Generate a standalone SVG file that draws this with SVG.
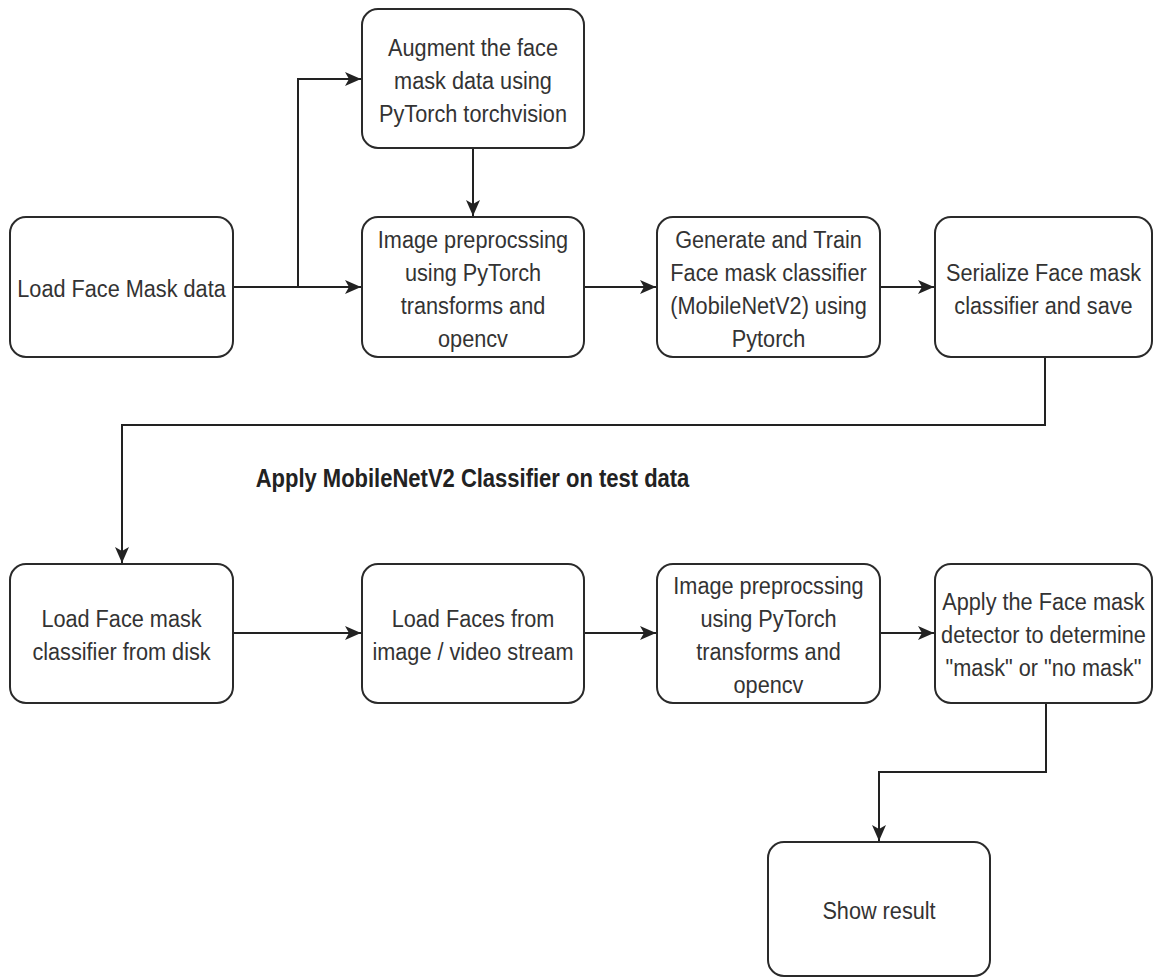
<svg xmlns="http://www.w3.org/2000/svg" width="1153" height="978" viewBox="0 0 1153 978">
<style>
.box{fill:#fff;stroke:#2a2a2a;stroke-width:2}
.t{font-family:"Liberation Sans",Arial,sans-serif;font-size:24.5px;fill:#333;text-anchor:middle}
.h{font-family:"Liberation Sans",Arial,sans-serif;font-size:25px;font-weight:bold;fill:#222;text-anchor:middle}
.c{fill:none;stroke:#222;stroke-width:2}
</style>
<defs>
<marker id="arr" markerUnits="userSpaceOnUse" markerWidth="16" markerHeight="14" refX="16" refY="7" orient="auto">
<path d="M0,0 L16,7 L0,14 L4,7 Z" fill="#222"/>
</marker>
</defs>
<rect width="1153" height="978" fill="#fff"/>
<g id="connectors">
<path class="c" d="M233,287 H361" marker-end="url(#arr)"/>
<path class="c" d="M298,287 V79 H361" marker-end="url(#arr)"/>
<path class="c" d="M473,148 V216" marker-end="url(#arr)"/>
<path class="c" d="M584,287 H656" marker-end="url(#arr)"/>
<path class="c" d="M880,287 H934" marker-end="url(#arr)"/>
<path class="c" d="M1045,357 V425 H122 V563" marker-end="url(#arr)"/>
<path class="c" d="M233,633 H361" marker-end="url(#arr)"/>
<path class="c" d="M584,633 H656" marker-end="url(#arr)"/>
<path class="c" d="M880,633 H934" marker-end="url(#arr)"/>
<path class="c" d="M1046,703 V772 H879 V841" marker-end="url(#arr)"/>
</g>
<g id="n1">
<rect class="box" x="10" y="217" width="223" height="140" rx="16"/>
<text class="t" transform="translate(121.5,0) scale(0.885,1)" x="0" y="297.5">Load Face Mask data</text>
</g>
<g id="n2">
<rect class="box" x="362" y="9" width="222" height="139" rx="16"/>
<text class="t" transform="translate(473,0) scale(0.885,1)"><tspan x="0" y="56">Augment the face</tspan><tspan x="0" y="89">mask data using</tspan><tspan x="0" y="122">PyTorch torchvision</tspan></text>
</g>
<g id="n3">
<rect class="box" x="362" y="217" width="222" height="140" rx="16"/>
<text class="t" transform="translate(473,0) scale(0.885,1)"><tspan x="0" y="248">Image preprocssing</tspan><tspan x="0" y="281">using PyTorch</tspan><tspan x="0" y="314">transforms and</tspan><tspan x="0" y="347">opencv</tspan></text>
</g>
<g id="n4">
<rect class="box" x="657" y="217" width="223" height="140" rx="16"/>
<text class="t" transform="translate(768.5,0) scale(0.885,1)"><tspan x="0" y="248">Generate and Train</tspan><tspan x="0" y="281">Face mask classifier</tspan><tspan x="0" y="314">(MobileNetV2) using</tspan><tspan x="0" y="347">Pytorch</tspan></text>
</g>
<g id="n5">
<rect class="box" x="935" y="217" width="217" height="140" rx="16"/>
<text class="t" transform="translate(1043.5,0) scale(0.885,1)"><tspan x="0" y="281">Serialize Face mask</tspan><tspan x="0" y="314">classifier and save</tspan></text>
</g>
<g id="heading">
<text class="h" transform="translate(472.5,0) scale(0.88,1)" x="0" y="487">Apply MobileNetV2 Classifier on test data</text>
</g>
<g id="n6">
<rect class="box" x="10" y="564" width="223" height="139" rx="16"/>
<text class="t" transform="translate(121.5,0) scale(0.885,1)"><tspan x="0" y="627.5">Load Face mask</tspan><tspan x="0" y="660.5">classifier from disk</tspan></text>
</g>
<g id="n7">
<rect class="box" x="362" y="564" width="222" height="139" rx="16"/>
<text class="t" transform="translate(473,0) scale(0.885,1)"><tspan x="0" y="627.5">Load Faces from</tspan><tspan x="0" y="660.5">image / video stream</tspan></text>
</g>
<g id="n8">
<rect class="box" x="657" y="564" width="223" height="139" rx="16"/>
<text class="t" transform="translate(768.5,0) scale(0.885,1)"><tspan x="0" y="594.5">Image preprocssing</tspan><tspan x="0" y="627.5">using PyTorch</tspan><tspan x="0" y="660.5">transforms and</tspan><tspan x="0" y="693.5">opencv</tspan></text>
</g>
<g id="n9">
<rect class="box" x="935" y="564" width="217" height="139" rx="16"/>
<text class="t" transform="translate(1043.5,0) scale(0.885,1)"><tspan x="0" y="610">Apply the Face mask</tspan><tspan x="0" y="643">detector to determine</tspan><tspan x="0" y="676">"mask" or "no mask"</tspan></text>
</g>
<g id="n10">
<rect class="box" x="768" y="842" width="222" height="134" rx="16"/>
<text class="t" transform="translate(879,0) scale(0.885,1)" x="0" y="919.5">Show result</text>
</g>
</svg>
